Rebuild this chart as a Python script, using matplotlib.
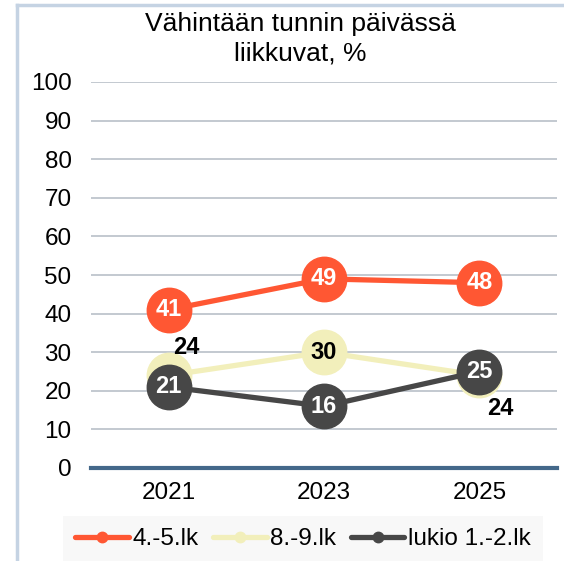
import matplotlib
matplotlib.use("Agg")
import matplotlib.pyplot as plt
from matplotlib.lines import Line2D

plt.rcParams['font.family'] = ['Liberation Sans', 'DejaVu Sans']

years = ["2021", "2023", "2025"]
series_names = ["4.-5.lk", "8.-9.lk", "lukio 1.-2.lk"]
v_45 = [41, 49, 48]
v_89 = [24, 30, 24]
v_lukio = [21, 16, 25]
yticks = [0, 10, 20, 30, 40, 50, 60, 70, 80, 90, 100]

colors = ["#FF5733", "#F2EFBB", "#474747"]

W, H = 564, 561
fig = plt.figure(figsize=(W / 100, H / 100), dpi=100)
ax = fig.add_axes([91 / W, 1 - 468 / H, (557 - 91) / W, (468 - 82) / H])

x = list(range(len(years)))
all_vals = [v_45, v_89, v_lukio]
zorders = [5, 3, 4]
for vals, name, c, z in zip(all_vals, series_names, colors, zorders):
    ax.plot(x, vals, color=c, lw=3.8, marker='o', markersize=32,
            solid_capstyle='round', label=name, zorder=z)

LBL = 17
for i, v in enumerate(v_45):
    ax.text(i, v, str(v), ha='center', va='center', color='white',
            fontsize=LBL, fontweight='bold', zorder=10)
for i, v in enumerate(v_lukio):
    ax.text(i, v, str(v), ha='center', va='center', color='white',
            fontsize=LBL, fontweight='bold', zorder=10)
ax.annotate(str(v_89[0]), (0, v_89[0]), xytext=(13, 20), textcoords='offset points',
            ha='center', va='center', fontsize=LBL, fontweight='bold', color='black', zorder=10)
ax.text(1, v_89[1], str(v_89[1]), ha='center', va='center', fontsize=LBL,
        fontweight='bold', color='black', zorder=10)
ax.annotate(str(v_89[2]), (2, v_89[2]), xytext=(15, -24), textcoords='offset points',
            ha='center', va='center', fontsize=LBL, fontweight='bold', color='black', zorder=10)

ax.set_xlim(-0.5, 2.5)
ax.set_ylim(0, 100)
ax.set_yticks(yticks)
ax.set_xticks(x)
ax.set_xticklabels(years)
ax.tick_params(axis='both', length=0, labelsize=17.5, colors='black')
ax.tick_params(axis='y', pad=14)
ax.tick_params(axis='x', pad=10)
ax.grid(axis='y', color='#B9C0C8', lw=1.2)
ax.set_axisbelow(True)
for s in ['top', 'right', 'left']:
    ax.spines[s].set_visible(False)
ax.spines['bottom'].set_color('#44688A')
ax.spines['bottom'].set_linewidth(3)
ax.spines['bottom'].set_zorder(2)

fig.text(300 / W, 1 - 39 / H, "Vähintään tunnin päivässä\nliikkuvat, %", ha='center', va='center',
         fontsize=19, linespacing=1.3)

handles = [Line2D([0], [0], color=c, lw=3.8, marker='o', markersize=7.5, solid_capstyle='round')
           for c in colors]
leg = fig.legend(handles, series_names, loc='center', bbox_to_anchor=(303 / W, 1 - 539 / H),
                 ncol=3, frameon=True, fontsize=17.5, handlelength=2.2, handletextpad=0.15,
                 columnspacing=0.6, borderpad=0.5)
leg.get_frame().set_facecolor('#F7F7F7')
leg.get_frame().set_edgecolor('none')
leg.get_frame().set_boxstyle('square', pad=0)

fig.add_artist(Line2D([17 / W, 17 / W], [0, 1 - 5 / H], color='#C5D3E3', lw=2.5))
fig.add_artist(Line2D([17 / W, 1], [1 - 5 / H, 1 - 5 / H], color='#C5D3E3', lw=2.5))

fig.savefig("out.png", dpi=100)
